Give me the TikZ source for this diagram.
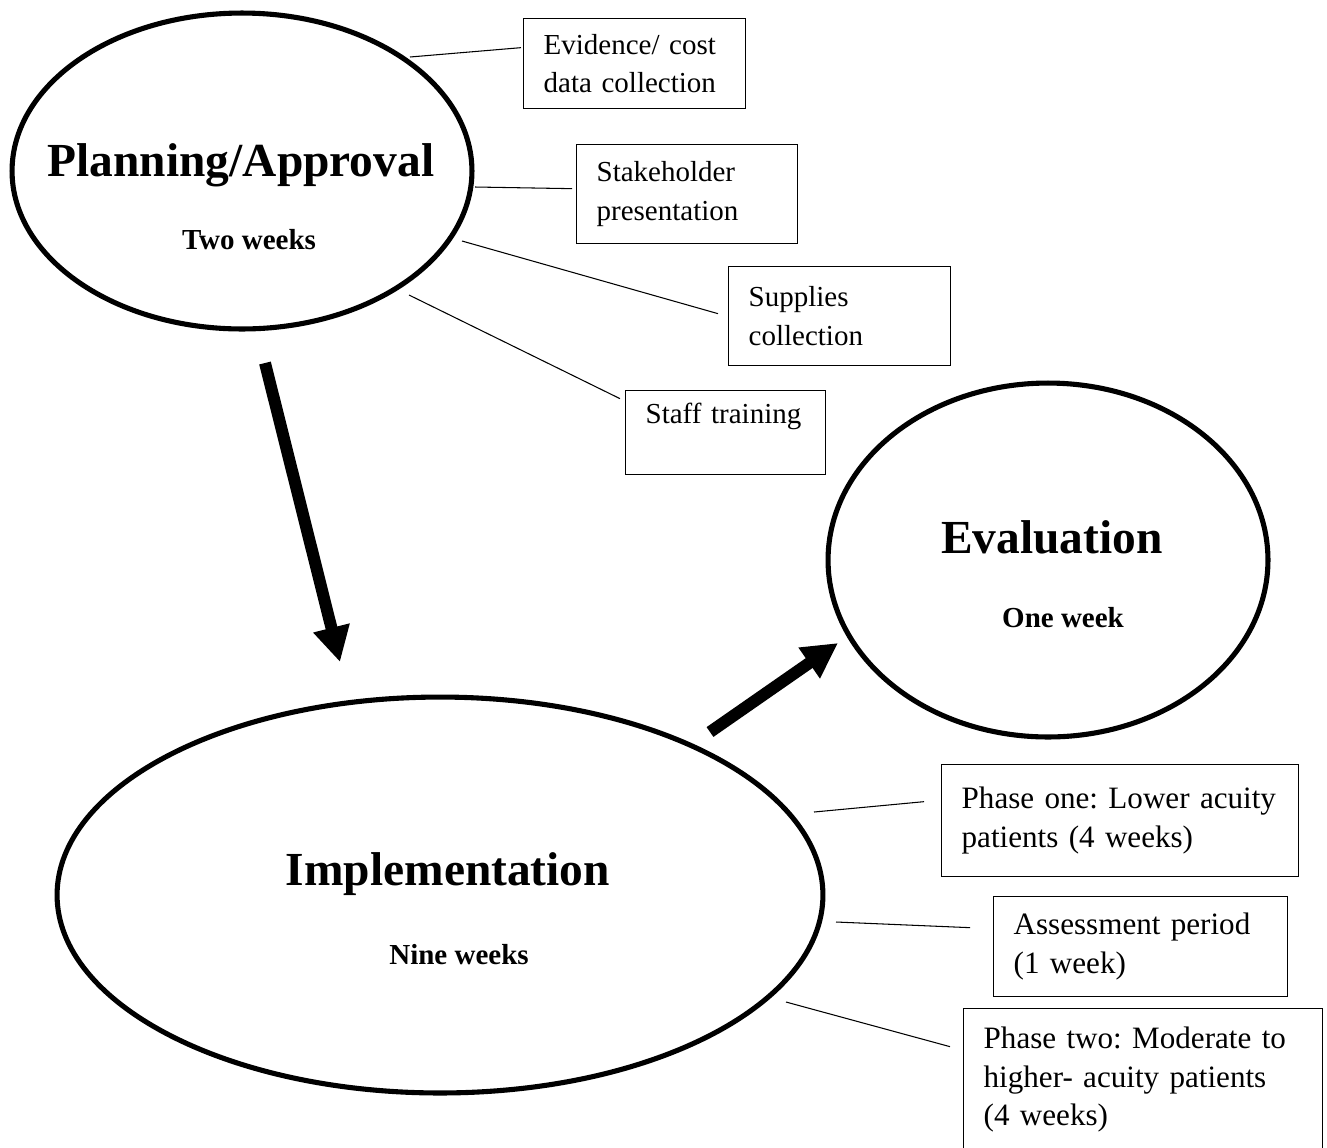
\documentclass[tikz,border=0pt]{standalone}
\usepackage{fontspec}
\setmainfont{Liberation Serif}
\usetikzlibrary{arrows.meta,shapes.geometric}
\frenchspacing
\hyphenpenalty=10000
\exhyphenpenalty=10000

\begin{document}
\begin{tikzpicture}[x=0.02cm, y=-0.02cm,
      phase/.style={draw, ellipse, line width=2.9pt, inner sep=0pt},
      task/.style={draw, line width=0.75pt, anchor=north west, inner xsep=0.4cm,
        inner ysep=0pt, align=left, font=\fontsize{16.5}{22}\selectfont},
      lowtask/.style={task, font=\fontsize{17.7}{22}\selectfont},
      title/.style={inner sep=0pt, font=\fontsize{27}{32}\selectfont\bfseries},
      span/.style={inner sep=0pt, font=\fontsize{16.5}{20}\selectfont\bfseries},
      link/.style={line width=0.6pt},
      flow/.style={line width=6.8pt, -{Triangle[length=20pt,width=20pt]}}]
    \useasboundingbox (0,0) rectangle (1327,1147);

    % the three phases
    \node[phase, minimum width=9.2cm, minimum height=6.32cm] (plan) at (242,171) {};
    \node[phase, minimum width=8.8cm, minimum height=7.08cm] (eval) at (1048,560) {};
    \node[phase, minimum width=15.32cm, minimum height=7.92cm] (impl) at (440,895) {};
    \node[title] (plant) at (241,165) {Planning/Approval};
    \node[span] (plans) at (249,240) {Two weeks};
    \node[title] (evalt) at (1052,537) {Evaluation};
    \node[span] (evals) at (1063,618) {One week};
    \node[title] (implt) at (448,874) {Implementation};
    \node[span] (impls) at (459,955) {Nine weeks};

    % tasks
    \node[task, text width=3.64cm, minimum height=1.8cm] (ev) at (523,18) {Evidence/ cost\\data collection};
    \node[task, text width=3.62cm, minimum height=1.98cm] (stake) at (576,144) {Stakeholder\\presentation};
    \node[task, text width=3.64cm, minimum height=1.98cm] (supp) at (728,266) {Supplies\\collection};
    \node[task, text width=3.2cm, minimum height=1.68cm] (staff) at (625,390) {Staff training\\\mbox{}};
    \node[lowtask, text width=6.34cm, minimum height=2.24cm] (ph1) at (941,764) {Phase one: Lower acuity\\patients (4 weeks)};
    \node[lowtask, text width=5.08cm, minimum height=2.0cm] (assess) at (993,896) {Assessment period\\(1 week)};
    \node[lowtask, text width=6.38cm, minimum height=2.84cm] (ph2) at (963,1008) {Phase two: Moderate to\\higher- acuity patients\\(4 weeks)};

    % connectors
    \coordinate (pl1) at (410,57);
    \coordinate (pl2) at (475,187);
    \coordinate (pl3) at (462,241);
    \coordinate (pl4) at (409,295);
    \coordinate (im1) at (814,812);
    \coordinate (im2) at (836,922);
    \coordinate (im3) at (786,1002);
    \foreach \a/\b/\dx/\dy in {pl1/ev/-2/-16, pl2/stake/-4/-5.5, pl3/supp/-10/-2.5,
        pl4/staff/-5/-34, im1/ph1/-17/-19, im2/assess/-23/-19, im3/ph2/-13/-33}
      \draw[link] (\a) -- ([shift={(\dx,\dy)}]\b.west);

    \coordinate (down0) at (265,363);
    \coordinate (down1) at (340,662);
    \coordinate (up0) at (710,732);
    \coordinate (up1) at (838,643);
    \draw[flow] (down0) -- (down1);
    \draw[flow] (up0) -- (up1);
  \end{tikzpicture}
\end{document}
